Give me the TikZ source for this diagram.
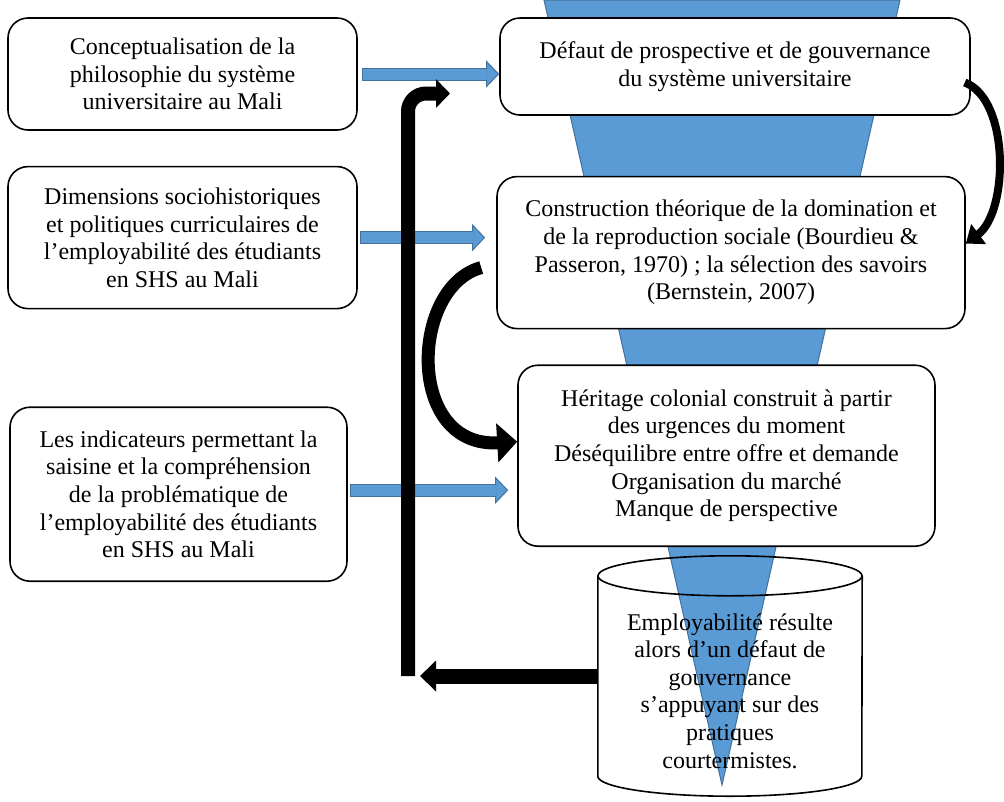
\documentclass[tikz,border=0pt]{standalone}
\usepackage{fontspec}
\setmainfont{Liberation Serif}
\usepackage{xcolor}
\usepackage{tikz}
\usetikzlibrary{arrows.meta,positioning,calc}
\definecolor{funfill}{HTML}{5B9BD5}
\definecolor{funedge}{HTML}{41719C}

\begin{document}
\begin{tikzpicture}[
    x=1pt, y=1pt,
    box/.style={rectangle, draw, line width=1.6pt, rounded corners=20pt, fill=white, align=center, inner sep=0pt, font=\fontsize{24}{27.6}\selectfont},
    blueedge/.style={line width=13pt, draw=funedge, -{Triangle[width=27pt, length=13pt, fill=funfill, line width=1pt]}},
    blueshaft/.style={line width=11pt, draw=funfill},
    blk/.style={draw=black, line cap=butt}
]
\useasboundingbox (0,0) rectangle (1004,-801);

% Funnel behind everything
\filldraw[fill=funfill, draw=funedge, line width=1pt] (544,0) -- (900,0) -- (722,-785) -- cycle;

% Boxes on the left
\node[box, minimum width=349pt, minimum height=112pt] (concept) at (182.5,-74) {Conceptualisation de la\\philosophie du système\\universitaire au Mali};
\node[box, minimum width=349pt, minimum height=142pt, below=35pt of concept] (dimens) {Dimensions sociohistoriques\\et politiques curriculaires de\\l’employabilité des étudiants\\en SHS au Mali};
\node[box, minimum width=337pt, minimum height=174pt, below=97pt of dimens, xshift=-4pt] (indic) {Les indicateurs permettant la\\saisine et la compréhension\\de la problématique de\\l’employabilité des étudiants\\en SHS au Mali};

% Boxes on the funnel
\node[box, minimum width=470pt, minimum height=97pt] (defaut) at (735,-66.5) {Défaut de prospective et de gouvernance\\du système universitaire};
\node[box, minimum width=468pt, minimum height=152pt, below=60pt of defaut, xshift=-4pt] (constr) {Construction théorique de la domination et\\de la reproduction sociale (Bourdieu \&\\Passeron, 1970) ; la sélection des savoirs\\(Bernstein, 2007)};
\node[box, minimum width=417pt, minimum height=181pt, below=35pt of constr, xshift=-4.5pt] (herit) {Héritage colonial construit à partir\\des urgences du moment\\Déséquilibre entre offre et demande\\Organisation du marché\\Manque de perspective};

% Cylinder at the bottom
\node[minimum width=264pt, minimum height=200pt, inner sep=0pt] (cyl) at (730,-676) {};
\draw[line width=1.6pt] (cyl.north) ellipse (132pt and 20pt);
\draw[line width=1.6pt] (cyl.north west) -- (cyl.south west) arc[start angle=180, end angle=360, x radius=132pt, y radius=20pt] -- (cyl.north east);
\node[align=center, font=\fontsize{24}{27.6}\selectfont] (emploi) at ([yshift=-15pt]cyl.center) {Employabilité résulte\\alors d’un défaut de\\gouvernance\\s’appuyant sur des\\pratiques\\courtermistes.};

% Blue arrows
\draw[blueedge, shorten <=4pt] (concept.east) -- (concept.east -| defaut.west);
\draw[blueshaft, shorten <=5pt, shorten >=12pt] (concept.east) -- (concept.east -| defaut.west);
\draw[blueedge, shorten <=2pt, shorten >=11pt] (dimens.east) -- (dimens.east -| constr.west);
\draw[blueshaft, shorten <=3pt, shorten >=23pt] (dimens.east) -- (dimens.east -| constr.west);
\draw[blueedge, shorten <=2pt, shorten >=9pt] ([yshift=4pt]indic.east) -- ([yshift=4pt]indic.east -| herit.west);
\draw[blueshaft, shorten <=3pt, shorten >=21pt] ([yshift=4pt]indic.east) -- ([yshift=4pt]indic.east -| herit.west);

% Black arrows
\draw[blk, line width=8pt, -{Triangle[width=24pt, length=16pt]}] ([xshift=-6pt, yshift=-16pt]defaut.east) .. controls +(45,-17) and +(43,32) .. ([yshift=9pt]constr.east);
\draw[blk, line width=13pt, -{Triangle[width=38pt, length=20pt]}] ([xshift=-15pt, yshift=-15pt]constr.west) .. controls +(-71,-19) and +(-112,-6.5) .. ([yshift=14pt]herit.west);

\coordinate (barbot) at (408,-676);
\coordinate (bartip) at (450,-93.5);
\draw[blk, line width=14pt, rounded corners=18pt, -{Triangle[width=28pt, length=14pt]}] (barbot) |- (bartip);
\draw[blk, line width=15pt, -{Triangle[width=30pt, length=16pt]}, shorten >=12pt] (cyl.west) -- (cyl.west -| barbot);

\end{tikzpicture}
\end{document}
